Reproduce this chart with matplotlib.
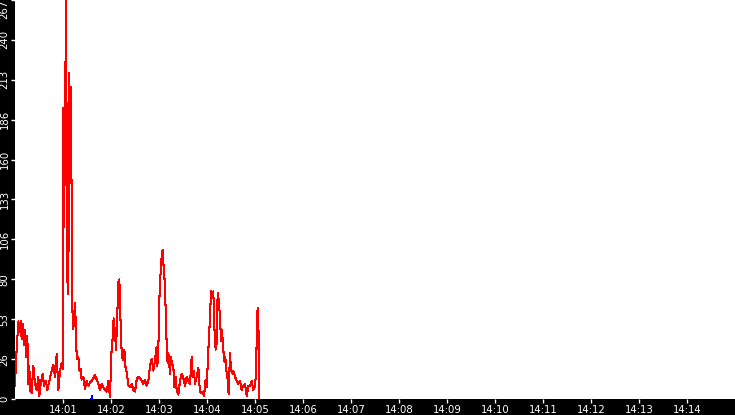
import numpy as np
import matplotlib
matplotlib.use("Agg")
import matplotlib.pyplot as plt
import matplotlib.dates as mdates

# seconds after 14:00:00 and the value
secs = [0, 1.25, 2.9, 4.2, 5.4, 7.1, 8.3, 9.6, 11.25, 12.5, 13.75, 15.4, 16.7, 17.9,
        18.75, 20.8, 22.9, 25, 27.1, 29.2, 30.4, 32.1, 34.6, 36.25, 38.75, 40.4, 42.9,
        45.8, 47.9, 50, 52.1, 54.2, 56.25, 58.3, 59.6, 60, 60.4, 61.25, 62.1, 62.9,
        63.75, 64.6, 65.4, 66.7, 67.5, 68.75, 69.6, 70.8, 71.7, 72.9, 75, 76.25, 77.1,
        79.2, 80.4, 82.1, 83.3, 85.4, 87.5, 89.6, 91.7, 93.75, 97.1, 100, 102.1, 104.2,
        106.25, 108.3, 110.4, 112.5, 114.6, 116.7, 118.75, 120.4, 122.1, 123.3, 125,
        126.25, 127.9, 129.2, 130.4, 131.25, 132.5, 133.75, 135.4, 136.7, 137.9, 139.6,
        141.7, 143.75, 145.8, 147.9, 150, 152.1, 154.2, 156.25, 158.3, 160.4, 162.5,
        164.6, 166.7, 168.75, 170.8, 172.9, 175, 177.1, 177.9, 179.2, 180.4, 181.7,
        183.3, 184.6, 185.4, 186.7, 187.5, 188.75, 189.6, 190.8, 191.7, 193.75, 195,
        196.25, 197.9, 199.2, 200.8, 202.1, 204.2, 206.25, 208.3, 210.4, 212.5, 214.6,
        216.7, 218.75, 220.8, 222.1, 223.75, 225, 227.1, 229.2, 230.4, 232.1, 234.2,
        236.25, 238.3, 239.6, 241.7, 243.75, 245, 246.7, 247.9, 249.2, 250.8, 252.1,
        253.3, 254.6, 256.25, 257.5, 258.75, 260.4, 261.7, 262.9, 264.6, 265.8, 267.1,
        268.75, 270, 271.7, 272.9, 275, 277.1, 279.2, 281.25, 283.3, 285.4, 287.5,
        289.6, 291.7, 293.75, 295.8, 297.9, 300, 301.25, 302.5, 303.3, 304.2, 305.4]
vals = [9, 26, 40, 52, 45, 52, 40, 50, 36, 46, 28, 42, 10, 22,
        6, 4, 22, 10, 6, 15, 2, 10, 17, 9, 12, 6, 12,
        19, 23, 15, 30, 6, 19, 24, 20, 108, 195, 115, 154, 211,
        267, 178, 80, 70, 218, 150, 209, 135, 60, 47, 64, 46, 27,
        28, 19, 20, 13, 15, 7, 12, 9, 11, 13, 16, 13, 10,
        6, 10, 8, 6, 5, 12, 1, 30, 41, 54, 44,
        33, 57, 78, 80, 66, 40, 28, 26, 33, 22, 18,
        9, 8, 10, 6, 5, 13, 15, 14, 12, 10, 13,
        9, 12, 22, 27, 19, 26, 35, 22, 34, 66, 82,
        95, 100, 91, 83, 71, 55, 35, 24, 31, 17, 28,
        23, 22, 8, 15, 6, 3, 12, 17, 14, 9, 15,
        12, 10, 28, 15, 19, 10, 15, 21, 10, 4, 5,
        2, 13, 8, 33, 55, 72, 68, 72, 48, 33, 37,
        71, 66, 55, 39, 46, 33, 25, 28, 17, 13, 3,
        31, 19, 17, 19, 15, 12, 10, 12, 6, 9, 10,
        2, 9, 9, 12, 6, 9, 17, 51, 61, 53, 0]

# second series, barely visible near zero
blue_secs = [95.5, 96.5]
blue_vals = [0, 2]

y_max = 267
y_ticks = [y_max * k / 10 for k in range(11)]
y_labels = [str(int(v)) for v in y_ticks]

base = np.datetime64("2024-01-01T14:00:00")
def to_time(s):
    return base + (np.array(s) * 1000).astype("timedelta64[ms]")

fig = plt.figure(figsize=(7.35, 4.15), dpi=100, facecolor="black")
ax = fig.add_axes([15 / 735, 16 / 415, 720 / 735, 399 / 415])
ax.set_facecolor("white")

ax.plot(to_time(secs), vals, color="red", lw=0.75, antialiased=False)
ax.plot(to_time(blue_secs), blue_vals, color="blue", lw=0.75, antialiased=False)

ax.set_xlim(base, base + np.timedelta64(15, "m"))
ax.set_ylim(0, y_max)

ax.set_xticks([base + np.timedelta64(m, "m") for m in range(1, 15)])
ax.xaxis.set_major_formatter(mdates.DateFormatter("%H:%M"))
ax.set_yticks(y_ticks)
ax.set_yticklabels(y_labels, rotation=90, va="center")
ax.get_yticklabels()[-1].set_va("top")

ax.tick_params(axis="both", colors="white", labelcolor="white", labelsize=7.3,
               direction="out", length=3, width=1, pad=1)
for sp in ax.spines.values():
    sp.set_visible(False)

fig.savefig("out.png", dpi=100, facecolor="black")
